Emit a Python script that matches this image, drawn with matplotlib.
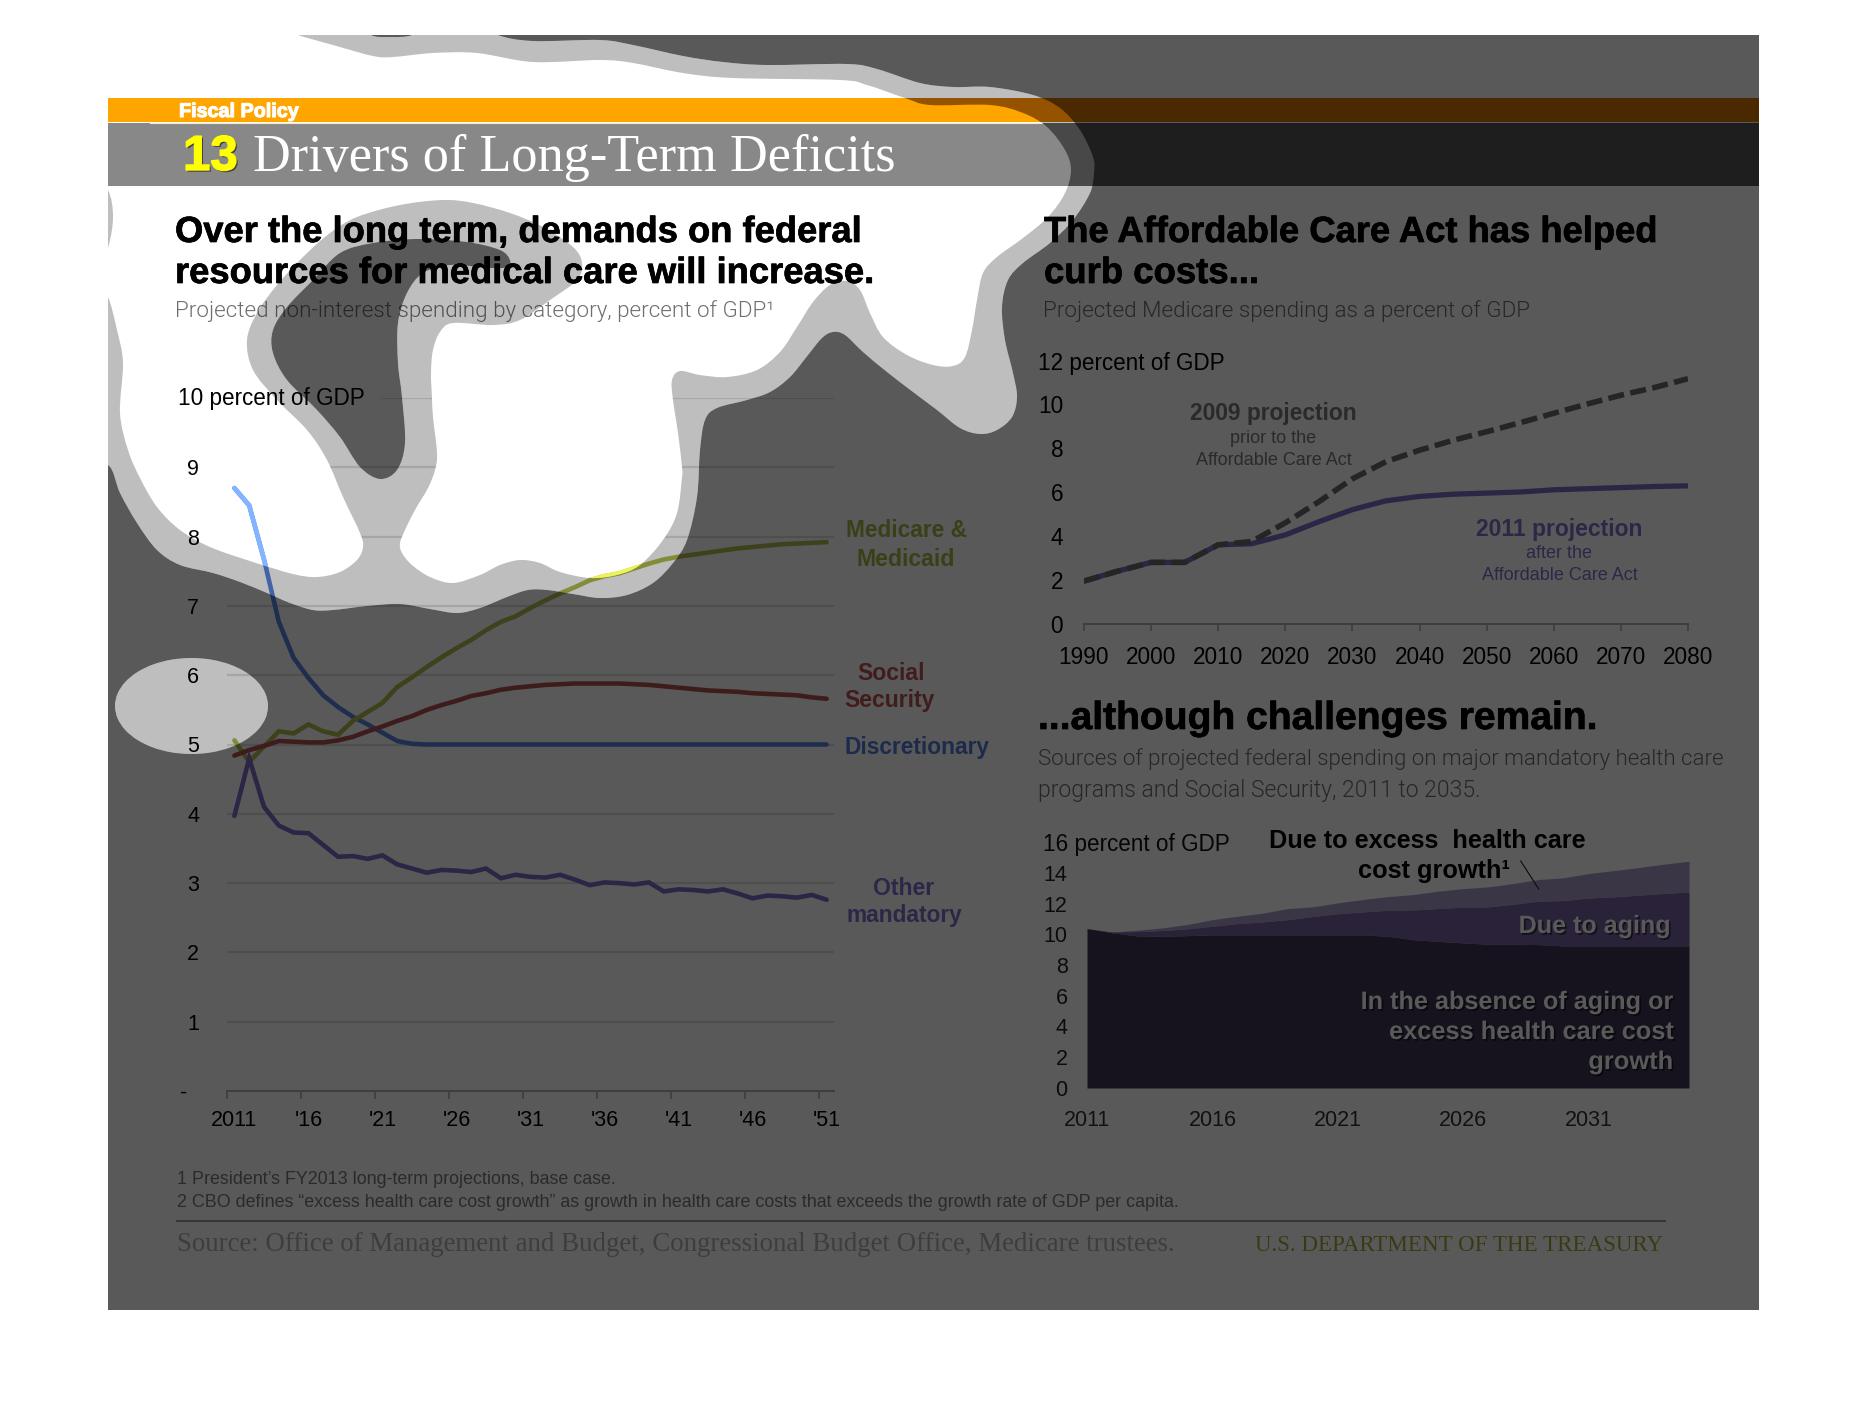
import numpy as np
import matplotlib
matplotlib.use("Agg")
import matplotlib.pyplot as plt
import matplotlib.patheffects as pe
from matplotlib.path import Path
from matplotlib.patches import PathPatch, Rectangle
from matplotlib.transforms import Affine2D
from matplotlib.lines import Line2D
from matplotlib.ticker import FixedLocator, FixedFormatter, NullFormatter

# ---------- data ----------
years_long = list(range(2011, 2052))
discretionary = [8.70, 8.45, 7.67, 6.77, 6.25, 5.96, 5.71, 5.54, 5.40, 5.29, 5.17, 5.05, 5.01] + [5.0] * 28
medicare = [5.06, 4.75, 4.97, 5.19, 5.16, 5.29, 5.19, 5.14, 5.34, 5.47, 5.60, 5.83, 5.97, 6.12, 6.26, 6.39,
            6.51, 6.65, 6.77, 6.85, 6.97, 7.08, 7.18, 7.27, 7.37, 7.43, 7.47, 7.54, 7.61, 7.67, 7.71, 7.74,
            7.77, 7.80, 7.83, 7.85, 7.87, 7.89, 7.90, 7.91, 7.92]
social_security = [4.84, 4.92, 4.98, 5.05, 5.04, 5.03, 5.03, 5.06, 5.11, 5.19, 5.26, 5.34, 5.41, 5.50, 5.57,
                   5.63, 5.70, 5.74, 5.79, 5.82, 5.84, 5.86, 5.87, 5.88, 5.88, 5.88, 5.88, 5.87, 5.86, 5.84,
                   5.82, 5.80, 5.78, 5.77, 5.76, 5.74, 5.73, 5.72, 5.71, 5.68, 5.66]
other_mandatory = [3.97, 4.80, 4.10, 3.83, 3.73, 3.72, 3.55, 3.38, 3.39, 3.35, 3.40, 3.27, 3.21, 3.15, 3.19,
                   3.18, 3.16, 3.21, 3.07, 3.12, 3.09, 3.08, 3.12, 3.05, 2.97, 3.01, 3.00, 2.98, 3.01, 2.88,
                   2.91, 2.90, 2.88, 2.91, 2.85, 2.78, 2.82, 2.81, 2.79, 2.83, 2.76]
long_ticks = ["2011", "'16", "'21", "'26", "'31", "'36", "'41", "'46", "'51"]

years_aca = [1990, 1995, 2000, 2005, 2010, 2015, 2020, 2025, 2030, 2035, 2040, 2045, 2050, 2055, 2060, 2065, 2070, 2075, 2080]
proj_2011 = [1.95, 2.40, 2.80, 2.80, 3.60, 3.65, 4.05, 4.65, 5.20, 5.60, 5.80, 5.90, 5.95, 6.00, 6.10, 6.15, 6.20, 6.25, 6.28]
proj_2009 = [1.95, 2.40, 2.80, 2.80, 3.60, 3.75, 4.60, 5.56, 6.60, 7.38, 7.90, 8.35, 8.74, 9.15, 9.58, 10.0, 10.4, 10.75, 11.15]

years_area = list(range(2011, 2036))
area_base = [10.37, 10.10, 9.89, 9.87, 9.91, 9.96, 9.96, 9.96, 9.96, 9.96, 9.96, 9.96, 9.87, 9.65, 9.54, 9.44,
             9.35, 9.35, 9.33, 9.24, 9.24, 9.24, 9.24, 9.24, 9.24]
area_aging_top = [10.37, 10.15, 10.17, 10.24, 10.35, 10.52, 10.69, 10.80, 10.95, 11.15, 11.34, 11.45, 11.56,
                  11.58, 11.67, 11.76, 11.78, 11.95, 12.15, 12.19, 12.36, 12.43, 12.54, 12.65, 12.75]
area_excess_top = [10.37, 10.15, 10.26, 10.41, 10.63, 10.95, 11.17, 11.37, 11.67, 11.78, 12.04, 12.26, 12.45,
                   12.58, 12.80, 12.97, 13.08, 13.30, 13.56, 13.67, 13.95, 14.14, 14.34, 14.56, 14.75]

# ---------- decorative shapes, in pixels from the top left ----------
W, H = 1866, 1404
outer_pts = [(80, 465), (60, 250), (80, 10), (250, 5), (360, 20), (371, 35), (391, 37), (412, 35), (428, 22), (482, 22),
             (498, 35), (533, 41), (600, 40), (633, 45), (683, 56), (723, 62), (767, 65), (847, 64), (877, 69),
             (920, 83), (953, 87), (990, 87), (1033, 95), (1060, 108), (1080, 130), (1093, 157), (1094, 173),
             (1090, 193), (1073, 220), (1050, 243), (1023, 263), (1008, 280), (1002, 307), (1005, 340), (1013, 373),
             (1017, 397), (1012, 417), (997, 430), (980, 434), (960, 428), (937, 410), (913, 392), (887, 372),
             (863, 352), (845, 335), (833, 332), (822, 338), (808, 355), (790, 377), (770, 392), (747, 400),
             (717, 408), (705, 420), (700, 450), (697, 497), (687, 540), (673, 563), (653, 583), (627, 595),
             (600, 598), (573, 594), (547, 590), (528, 590), (507, 597), (480, 608), (457, 613), (430, 609),
             (400, 604), (367, 606), (333, 610), (313, 610), (290, 603), (267, 593), (240, 582), (213, 573),
             (180, 565), (157, 550), (137, 523), (120, 493), (108, 465)]
inner_pts = [(80, 100), (80, 20), (200, 10), (285, 28), (298, 35), (333, 45), (373, 56), (393, 57), (433, 53), (477, 53),
             (533, 62), (600, 60), (633, 63), (683, 73), (733, 78), (840, 80), (867, 85), (905, 98), (930, 105),
             (990, 105), (1023, 113), (1047, 127), (1065, 150), (1071, 170), (1065, 193), (1048, 217), (1023, 238),
             (997, 257), (983, 273), (977, 300), (972, 330), (965, 357), (953, 366), (933, 365), (907, 355),
             (883, 337), (870, 313), (860, 290), (847, 281), (830, 285), (813, 302), (797, 327), (780, 352),
             (757, 370), (727, 377), (700, 375), (680, 371), (672, 380), (673, 400), (678, 433), (682, 467),
             (682, 477), (677, 513), (663, 540), (640, 565), (617, 575), (590, 578), (560, 572), (540, 563),
             (520, 560), (500, 565), (480, 575), (453, 583), (430, 577), (412, 565), (402, 553), (400, 543),
             (405, 530), (415, 510), (428, 488), (435, 470), (437, 453), (433, 417), (432, 398), (431, 373), (433, 350),
             (440, 332), (453, 323), (493, 325), (520, 320), (550, 300), (577, 280), (582, 263), (573, 247),
             (543, 227), (510, 213), (473, 203), (443, 200), (400, 205), (357, 217), (330, 233), (303, 257),
             (277, 285), (257, 313), (247, 340), (253, 370), (277, 400), (307, 430), (327, 460), (343, 497),
             (360, 533), (363, 547), (357, 560), (340, 572), (317, 577), (293, 574), (253, 562), (210, 547),
             (180, 530), (157, 507), (140, 478), (128, 450), (120, 413), (123, 363), (117, 330), (108, 297),
             (95, 280), (108, 248), (113, 217), (108, 190), (90, 170)]
island_pts = [(510, 260), (500, 250), (467, 242), (417, 239), (373, 243), (340, 253), (313, 280), (287, 307), (273, 330),
              (273, 353), (287, 380), (317, 410), (340, 437), (360, 467), (380, 479), (397, 470), (405, 443),
              (402, 397), (398, 363), (398, 323), (407, 293), (423, 273), (450, 265), (490, 268), (507, 267)]
PANEL = (108, 35, 1759, 1310)


def smooth_closed(pts, tension=1 / 6):
    p = np.asarray(pts, float)
    n = len(p)
    verts = [p[0]]
    codes = [Path.MOVETO]
    for i in range(n):
        p0, p1, p2, p3 = p[i - 1], p[i], p[(i + 1) % n], p[(i + 2) % n]
        verts += [p1 + (p2 - p0) * tension, p2 - (p3 - p1) * tension, p2]
        codes += [Path.CURVE4] * 3
    return np.array(verts), codes


def signed_area(v):
    x, y = v[:, 0], v[:, 1]
    return 0.5 * np.sum(x * np.roll(y, -1) - np.roll(x, -1) * y)


def loop(verts, codes, positive=True):
    if (signed_area(verts) > 0) != positive:
        verts = verts[::-1]
    return verts, codes


def compound(*loops):
    vs, cs = [], []
    for v, c in loops:
        vs.append(v)
        cs += list(c)
    return Path(np.vstack(vs), cs)


outer = smooth_closed(outer_pts)
inner = smooth_closed(inner_pts)
island = smooth_closed(island_pts)
t = np.linspace(0, 2 * np.pi, 25)[:-1]
ellipse = smooth_closed(list(zip(191.5 + 76.5 * np.cos(t), 706 + 48 * np.sin(t))))
px0, py0, px1, py1 = PANEL
rect_v = np.array([(px0, py0), (px1, py0), (px1, py1), (px0, py1), (px0, py0)], float)
rect_c = [Path.MOVETO] + [Path.LINETO] * 4
rect = (rect_v, rect_c)

plt.rcParams['font.family'] = ['Liberation Sans', 'DejaVu Sans']
fig = plt.figure(figsize=(W / 100, H / 100), dpi=100, facecolor='white')
T = Affine2D().scale(1, -1).translate(0, H)
renderer = fig.canvas.get_renderer()

LIGHT = ['Roboto', 'Liberation Sans', 'DejaVu Sans']
SERIF = ['Liberation Serif', 'DejaVu Serif']
SANS = ['Liberation Sans', 'DejaVu Sans']


def txt(x, y, s, px, color='black', ha='left', width=None, bold=False, family=None, stroke=0, shadow=False, z=3,
        weight=None):
    o = fig.text(x, y, s, transform=T, fontsize=px * 0.72, color=color, ha=ha, va='baseline',
                 fontweight=weight or ('bold' if bold else 'normal'), family=family or SANS, zorder=z)
    if width:
        w = o.get_window_extent(renderer).width
        o.set_fontsize(px * 0.72 * width / w)
    eff = []
    if shadow:
        eff.append(pe.SimplePatchShadow(offset=(1.2, -1.2), shadow_rgbFace='black', alpha=0.55))
    if stroke:
        eff.append(pe.withStroke(linewidth=stroke, foreground=color))
    elif shadow:
        eff.append(pe.Normal())
    if eff:
        o.set_path_effects(eff)
    return o


def axes_px(x0, ytop, x1, ybot, z=1):
    return fig.add_axes([x0 / W, 1 - ybot / H, (x1 - x0) / W, (ybot - ytop) / H], facecolor='none', zorder=z)


grid_clip = compound(loop(*rect, True), loop(*inner, False))
GRID = '#e0e0e0'
AXIS = '#b0b0b0'


def gridline(ax, y, x0, x1):
    ln, = ax.plot([x0, x1], [y, y], color=GRID, lw=1.6, zorder=0.5, solid_capstyle='butt')
    ln.set_clip_path(grid_clip, T)
    return ln


# ---------- left chart ----------
ax = axes_px(227, 398, 834, 1091)
ax.set_xlim(2010.5, 2051.5)
ax.set_ylim(0, 10)
for y in range(1, 10):
    gridline(ax, y, 2010.5, 2051.5)
gridline(ax, 10, 2020.9, 2051.5)
line_kw = dict(lw=3.3, solid_capstyle='round', solid_joinstyle='miter')
ax.plot(years_long, discretionary, color='#5a86e0', **line_kw)
ax.plot(years_long, medicare, color='#b1bc4d', **line_kw)
ax.plot(years_long, social_security, color='#b45050', **line_kw)
ax.plot(years_long, other_mandatory, color='#836ac5', **line_kw)
for s in ('top', 'left', 'right'):
    ax.spines[s].set_visible(False)
ax.spines['bottom'].set_color(AXIS)
ax.spines['bottom'].set_linewidth(1.4)
ax.xaxis.set_major_locator(FixedLocator(np.arange(2010.5, 2052, 5)))
ax.xaxis.set_major_formatter(NullFormatter())
ax.xaxis.set_minor_locator(FixedLocator(np.arange(2011, 2052, 5)))
ax.xaxis.set_minor_formatter(FixedFormatter(long_ticks))
ax.tick_params(axis='x', which='major', length=5.5, width=1.2, color=AXIS)
ax.tick_params(axis='x', which='minor', length=0, pad=13.5, labelsize=15.5)
ax.set_yticks(range(0, 10))
ax.set_yticklabels(['-  '] + [str(i) for i in range(1, 10)])
ax.tick_params(axis='y', length=0, pad=20, labelsize=15.5)

# ---------- upper right chart ----------
ax2 = axes_px(1084, 360, 1688, 624)
ax2.set_xlim(1990, 2080)
ax2.set_ylim(0, 12)
ax2.plot(years_aca, proj_2011, color='#836ac5', lw=3.8, solid_joinstyle='miter')
ax2.plot(years_aca, proj_2009, color='#6a6a6a', lw=4.0, dashes=(2.9, 1.15))
for s in ('top', 'left', 'right'):
    ax2.spines[s].set_visible(False)
ax2.spines['bottom'].set_color(AXIS)
ax2.spines['bottom'].set_linewidth(1.4)
ax2.set_xticks(range(1990, 2081, 10))
ax2.set_yticks(range(0, 11, 2))
ax2.tick_params(axis='x', length=5, width=1.2, color=AXIS, pad=10.5, labelsize=16.3)
ax2.tick_params(axis='y', length=0, pad=15, labelsize=16.3)

# ---------- lower right chart ----------
ax3 = axes_px(1087, 842, 1689, 1088)
ax3.set_xlim(2011, 2035)
ax3.set_ylim(0, 16)
for y in (12, 14):
    gridline(ax3, y, 2011, 2035)
gridline(ax3, 16, 2017.3, 2035)
ax3.fill_between(years_area, area_aging_top, area_excess_top, color='#ab9ac8', lw=0, zorder=2)
ax3.fill_between(years_area, area_base, area_aging_top, color='#7861a0', lw=0, zorder=2)
ax3.fill_between(years_area, 0, area_base, color='#3f3656', lw=0, zorder=2)
for s in ('top', 'left', 'right', 'bottom'):
    ax3.spines[s].set_visible(False)
ax3.set_xticks(range(2011, 2032, 5))
ax3.set_yticks(range(0, 15, 2))
ax3.tick_params(axis='x', length=0, pad=15.5, labelsize=15.5, labelcolor='#333333')
ax3.tick_params(axis='y', length=0, pad=14, labelsize=15.5, labelcolor='#222222')

# ---------- text ----------
TITLE = dict(px=34, bold=True, stroke=0.5)
txt(175, 242, "Over the long term, demands on federal", width=687, **TITLE)
txt(175, 283, "resources for medical care will increase.", width=700, **TITLE)
txt(1044, 242, "The Affordable Care Act has helped", width=614, **TITLE)
txt(1044, 283, "curb costs...", width=215, **TITLE)
txt(1038, 729, "...although challenges remain.", width=559, **TITLE)
SUB = '#6e6e6e'
txt(175, 317, "Projected non-interest spending by category, percent of GDP\u00b9", 26, SUB, width=597, family=LIGHT, weight=300)
txt(1043, 317, "Projected Medicare spending as a percent of GDP", 26, SUB, width=485, family=LIGHT, weight=300)
txt(1038, 765, "Sources of projected federal spending on major mandatory health care", 26, SUB, width=686, family=LIGHT, weight=300)
txt(1038, 797, "programs and Social Security, 2011 to 2035.", 26, SUB, width=441, family=LIGHT, weight=300)

txt(178, 405, "10 percent of GDP", 22, width=186)
txt(1038, 370, "12 percent of GDP", 22, width=186)
txt(1043, 851, "16 percent of GDP", 22, '#111111', width=186)

BAND_LABEL = dict(px=23, bold=True)
txt(846, 537, "Medicare &", color='#a5b441', width=121, **BAND_LABEL)
txt(906, 566, "Medicaid", color='#a5b441', ha='center', **BAND_LABEL)
txt(891, 680, "Social", color='#bc5050', ha='center', **BAND_LABEL)
txt(890, 707, "Security", color='#bc5050', ha='center', width=90, **BAND_LABEL)
txt(844, 754, "Discretionary", color='#5478d8', width=145, **BAND_LABEL)
txt(904, 895, "Other", color='#836dcd', ha='center', **BAND_LABEL)
txt(904, 922, "mandatory", color='#836dcd', ha='center', width=116, **BAND_LABEL)

txt(1273.5, 420, "2009 projection", 23, '#787878', ha='center', bold=True, width=166)
txt(1273.5, 443, "prior to the", 18, '#787878', ha='center')
txt(1273.5, 465, "Affordable Care Act", 18, '#787878', ha='center', width=156)
txt(1559.5, 536, "2011 projection", 23, '#836dcd', ha='center', bold=True, width=166)
txt(1559.5, 558, "after the", 18, '#836dcd', ha='center')
txt(1559.5, 580, "Affordable Care Act", 18, '#836dcd', ha='center', width=156)

txt(1268.7, 848, "Due to excess  health care", 25, bold=True, width=317)
txt(1358, 878, "cost growth\u00b9", 25, bold=True, width=152)
fig.add_artist(Line2D([1520.7, 1538.7], [861, 889], transform=T, color='#222222', lw=0.8, zorder=3))
txt(1670.5, 933, "Due to aging", 25, '#ffffff', ha='right', bold=True, width=152, shadow=True)
txt(1673.4, 1009, "In the absence of aging or", 25, '#ffffff', ha='right', bold=True, width=313, shadow=True)
txt(1673.4, 1039, "excess health care cost", 25, '#ffffff', ha='right', bold=True, width=285, shadow=True)
txt(1673.4, 1069, "growth", 25, '#ffffff', ha='right', bold=True, width=85, shadow=True)

txt(177, 1184, "1 President\u2019s FY2013 long-term projections, base case.", 17, '#7a7a7a', width=439)
txt(177, 1207, "2 CBO defines \u201cexcess health care cost growth\u201d as growth in health care costs that exceeds the growth rate of GDP per capita.",
    17, '#7a7a7a', width=1005)
fig.add_artist(Line2D([177, 1665], [1221, 1221], transform=T, color='#999999', lw=1.4, zorder=3))
txt(177, 1251, "Source: Office of Management and Budget, Congressional Budget Office, Medicare trustees.", 24, '#b0b0b0',
    width=1001, family=SERIF)
txt(1255, 1251, "U.S. DEPARTMENT OF THE TREASURY", 21, '#a5a83a', width=410, family=SERIF)

# ---------- the dark mask with its holes ----------
dark = compound(loop(*rect, True), loop(*outer, False), loop(*island, True), loop(*ellipse, False))
ring = compound(loop(*outer, True), loop(*inner, False), loop(*island, False), loop(*ellipse, True))
clip_box = (Path(rect_v, rect_c), T)
for path, alpha in ((dark, 0.65), (ring, 0.255)):
    p = PathPatch(path, transform=T, facecolor='black', edgecolor='none', alpha=alpha, zorder=5)
    fig.add_artist(p)
    p.set_clip_path(*clip_box)

# ---------- header bands, coloured per region ----------
outer_path = compound(loop(*outer, True))
inner_path = compound(loop(*inner, True))
for (y0, y1, c_dark, c_ring, c_white) in ((98, 122, '#4a2800', '#955300', '#ffa500'),
                                           (123, 186, '#1e1e1e', '#484848', '#888888')):
    for col, clip in ((c_dark, None), (c_ring, outer_path), (c_white, inner_path)):
        r = Rectangle((px0, y0), px1 - px0, y1 - y0, transform=T, facecolor=col, edgecolor='none', zorder=6)
        fig.add_artist(r)
        if clip is not None:
            r.set_clip_path(clip, T)
ln = Line2D([150, 1100], [122.5, 122.5], transform=T, color='#ffe9bd', lw=0.8, zorder=6)
fig.add_artist(ln)
ln.set_clip_path(inner_path, T)

# the two lines keep their full brightness where the mask is open
ax_open = axes_px(227, 398, 834, 1091, z=5.5)
ax_open.set_xlim(2010.5, 2051.5)
ax_open.set_ylim(0, 10)
ax_open.axis('off')
for values, col in ((discretionary, '#82b4ff'), (medicare, '#eef25a')):
    l, = ax_open.plot(years_long, values, color=col, **line_kw)
    l.set_clip_path(inner_path, T)

txt(179, 117, "Fiscal Policy", 18.5, 'white', bold=True, width=119, stroke=0.8, z=7)
txt(183, 170, "13", 45, '#ffff00', bold=True, width=55, stroke=1, shadow=True, z=7)
txt(253, 171, "Drivers of Long-Term Deficits", 47, 'white', width=642, family=SERIF, z=7)

fig.savefig('out.png', dpi=100)
